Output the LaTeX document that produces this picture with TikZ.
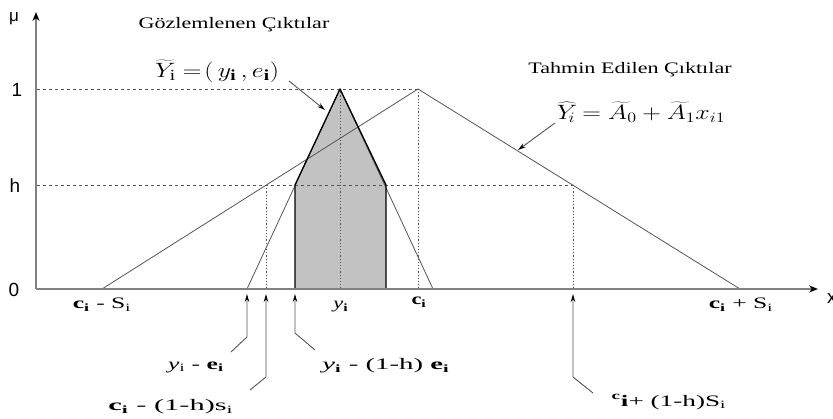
\documentclass[tikz,border=0pt]{standalone}
\usepackage{fontspec}
\setmainfont{Liberation Serif}
\newfontfamily\axfont{Liberation Sans}
\usetikzlibrary{arrows.meta}
\newcommand{\cI}{\textbf{c}\textsubscript{\textbf{i}}}
\newcommand{\sI}{s\textsubscript{i}}
\newcommand{\SI}{S\textsubscript{i}}
\newcommand{\yI}{\textit{y}\textsubscript{\textbf{i}}}
\newcommand{\yIr}{\textit{y}\textsubscript{i}}
\newcommand{\eI}{\textbf{e}\textsubscript{\textbf{i}}}
\newcommand{\sxb}[2]{\scalebox{#1}[1]{#2}}
\definecolor{axgray}{HTML}{808080}
\definecolor{lngray}{HTML}{555555}
\definecolor{fillgray}{HTML}{C2C2C2}
\tikzset{
  axisline/.style={draw=axgray, line width=1.8pt, -{Stealth[length=9pt,width=7pt,black]}},
  tri/.style={draw=lngray, line width=0.8pt},
  hdash/.style={draw=lngray, line width=0.8pt, dash pattern=on 3pt off 3pt},
  vdot/.style={draw=lngray, line width=1pt, dash pattern=on 1.2pt off 2pt},
  bound/.style={draw=black, line width=1.3pt, line join=round},
  pointer/.style={draw=lngray, line width=0.9pt, -{Stealth[length=8pt,width=4.5pt,black]}},
  axlab/.style={font=\axfont\fontsize{19}{22}\selectfont, inner sep=0pt},
  title/.style={font=\fontsize{16}{18}\selectfont, inner sep=0pt},
  blab/.style={font=\fontsize{16}{19}\selectfont, inner sep=0pt},
  eqlab/.style={font=\fontsize{22}{25}\selectfont, inner sep=0pt},
}
\begin{document}
\begin{tikzpicture}[x=1pt,y=-1pt]
\useasboundingbox (0,0) rectangle (833,419);
% key coordinates
\coordinate (O) at (36,289);
\coordinate (ytop) at (36,12);
\coordinate (xend) at (818,289);
\coordinate (BL) at (102,289);
\coordinate (BP) at (418,89);
\coordinate (BR) at (740,289);
\coordinate (SL) at (247,289);
\coordinate (SP) at (340,89);
\coordinate (SR) at (433,289);
\coordinate (SLh) at (295,185);
\coordinate (SRh) at (386,185);
\coordinate (SL0) at (295,289);
\coordinate (SR0) at (386,289);
\coordinate (BLh) at (266,185);
\coordinate (BRh) at (573,185);
\coordinate (BLh0) at (266,289);
\coordinate (BRh0) at (573,289);
\coordinate (SP0) at (340,289);
\coordinate (BP0) at (418,289);
\coordinate (L1) at (37,89);
\coordinate (Lh) at (37,185);
% shaded region
\fill[fillgray] (SL0) -- (SLh) -- (SP) -- (SRh) -- (SR0) -- cycle;
% dashed levels
\draw[hdash] (L1) -- (BP);
\draw[hdash] (Lh) -- (BRh);
% dotted verticals
\draw[vdot] (BLh) -- (BLh0);
\draw[vdot] (SP) -- (SP0);
\draw[vdot] (BP) -- (BP0);
\draw[vdot] (BRh) -- (BRh0);
% triangles
\draw[tri] (BL) -- (BP) -- (BR);
\draw[tri] (SL) -- (SP) -- (SR);
\draw[bound] (SL0) -- (SLh) -- (SP) -- (SRh) -- (SR0);
% axes
\draw[axisline] (O) -- (ytop);
\draw[axisline] (O) -- (xend);
% axis labels
\node[axlab, font=\axfont\fontsize{17}{20}\selectfont] (mu) at (14,19) {μ};
\node[axlab] (one) at (17,90) {1};
\node[axlab] (hh) at (15,186) {h};
\node[axlab] (zero) at (14,290) {0};
\node[axlab, anchor=west] (xx) at (827,298) {x};
% titles
\node[title] (gozt) at (234,25) {\sxb{1.38}{Gözlemlenen Çıktılar}};
\node[title] (taht) at (630,70) {\sxb{1.38}{Tahmin Edilen Çıktılar}};
\node[eqlab] (yeq) at (217,71) {\sxb{1.25}{$\widetilde{Y}_{\mathrm{i}} =\!(\,y_{\mathbf{i}}\,,e_{\mathbf{i}})$}};
\node[eqlab] (aeq) at (641,112) {\sxb{1.25}{$\widehat{Y}_{\!i} = \widetilde{A}_0 + \widetilde{A}_{1}x_{i1}$}};
\coordinate (yeqtip) at (325,110);
\coordinate (yeqfrom) at (289,81);
\coordinate (aeqtip) at (518,150);
\coordinate (aeqfrom) at (555,123);
\draw[pointer] (yeqfrom) -- (yeqtip);
\draw[pointer] (aeqfrom) -- (aeqtip);
% bottom tick labels
\node[blab] (cms) at (102,305) {\sxb{1.6}{\cI\ - \SI}};
\node[blab] (yiL) at (341,307) {\sxb{1.4}{\yI}};
\node[blab] (ciL) at (419,302) {\sxb{1.4}{\cI}};
\node[blab] (cps) at (741,305) {\sxb{1.6}{\cI\ + \SI}};
% pointer labels
\node[blab] (l1) at (196,367) {\sxb{1.6}{\yIr\ - \eI}};
\node[blab] (l2) at (171,407) {\sxb{1.9}{\cI\ - (1-h)\sI}};
\node[blab] (l3) at (386,366) {\sxb{1.8}{\yI\ - (1-h) \eI}};
\node[blab] (l4) at (669,402) {\sxb{1.7}{\textsuperscript{\textbf{c}}\textbf{i}+ (1-h)\SI}};
\coordinate (t1) at (247,294);
\coordinate (t2) at (266,294);
\coordinate (t3) at (295,294);
\coordinate (t4) at (573,294);
\coordinate (b1) at (247,337);
\coordinate (b2) at (266,377);
\coordinate (b3) at (295,333);
\coordinate (b4) at (573,377);
\coordinate (e1) at (231,352);
\coordinate (e2) at (250,390);
\coordinate (e3) at (315,350);
\coordinate (e4) at (593,393);
\draw[pointer] (e1) -- (b1) -- (t1);
\draw[pointer] (e2) -- (b2) -- (t2);
\draw[pointer] (e3) -- (b3) -- (t3);
\draw[pointer] (e4) -- (b4) -- (t4);
\end{tikzpicture}
\end{document}
